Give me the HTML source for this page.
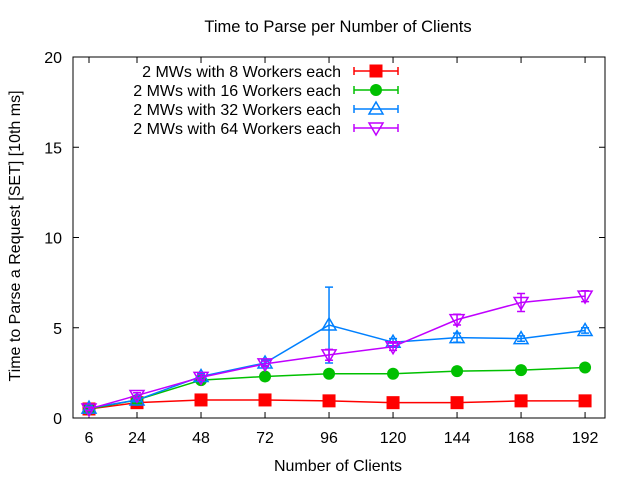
<!DOCTYPE html>
<html><head><meta charset="utf-8"><style>
body{margin:0;background:#fff}
svg{display:block;font-family:"Liberation Sans",sans-serif;font-size:16px}
</style></head><body>
<svg width="640" height="480" id="c">
<rect width="640" height="480" fill="#fff"/>
<text x="338" y="32" text-anchor="middle" style="font-size:16.5px">Time to Parse per Number of Clients</text>
<text x="338" y="471" text-anchor="middle">Number of Clients</text>
<text transform="translate(20,236) rotate(-90)" text-anchor="middle">Time to Parse a Request [SET] [10th ms]</text>
<g id="axes"></g>
<g id="series"></g>
<g id="legend"></g>
<rect x="73" y="57" width="532" height="361" fill="none" stroke="#000"/>
</svg>
<script>
const categories=[6,24,48,72,96,120,144,168,192];
const yTicks=[0,5,10,15,20];
const seriesNames=["2 MWs with 8 Workers each","2 MWs with 16 Workers each","2 MWs with 32 Workers each","2 MWs with 64 Workers each"];
const s8=[0.5,0.85,1.0,1.0,0.95,0.85,0.85,0.95,0.95];
const s16=[0.5,1.0,2.1,2.3,2.45,2.45,2.6,2.65,2.8];
const s32=[0.55,1.0,2.3,3.05,5.15,4.2,4.45,4.4,4.85];
const s64=[0.5,1.25,2.25,3.0,3.5,3.95,5.45,6.4,6.75];
const err8=[0.05,0.05,0.05,0.05,0.05,0.05,0.05,0.05,0.05];
const err16=[0.05,0.05,0.1,0.05,0.05,0.05,0.05,0.05,0.05];
const err32=[0.1,0.1,0.15,0.15,2.1,0.2,0.25,0.15,0.15];
const err64=[0.1,0.15,0.15,0.15,0.3,0.2,0.3,0.5,0.3];
const colors=["#ff0000","#00c000","#0080ff","#c000ff"];
const NS="http://www.w3.org/2000/svg";
function x(v){return 73+v*2.667;}
function y(v){return 418-v*18.05;}
function el(t,a,p){const e=document.createElementNS(NS,t);for(const k in a)e.setAttribute(k,a[k]);p.appendChild(e);return e;}
const ax=document.getElementById('axes');
categories.forEach(c=>{
  const t=el('line',{x1:x(c),x2:x(c),y1:418,y2:412,stroke:'#000'},ax);
  
  
  const t2=el('line',{x1:x(c),x2:x(c),y1:57,y2:63,stroke:'#000'},ax);
  
  
  const l=el('text',{x:x(c),y:443,'text-anchor':'middle'},ax);l.textContent=c;
  
  
});
yTicks.forEach(v=>{
  const t=el('line',{x1:73,x2:79,y1:y(v),y2:y(v),stroke:'#000'},ax);
  
  
  const t2=el('line',{x1:605,x2:599,y1:y(v),y2:y(v),stroke:'#000'},ax);
  
  
  const l=el('text',{x:62,y:y(v)+6,'text-anchor':'end'},ax);l.textContent=v;
  
  
});
function marker(i,cx,cy,g){
  const c=colors[i];let m;
  if(i==0)m=el('rect',{x:cx-6.5,y:cy-6.5,width:13,height:13,fill:c},g);
  else if(i==1)m=el('circle',{cx:cx,cy:cy,r:6,fill:c},g);
  else if(i==2)m=el('polygon',{points:`${cx},${cy-7} ${cx-7},${cy+5} ${cx+7},${cy+5}`,fill:'none',stroke:c,'stroke-width':1.5},g);
  else m=el('polygon',{points:`${cx},${cy+7} ${cx-7},${cy-5} ${cx+7},${cy-5}`,fill:'none',stroke:c,'stroke-width':1.5},g);
  return m;
}
const sg=document.getElementById('series');
[[s8,err8],[s16,err16],[s32,err32],[s64,err64]].forEach(([vals,errs],i)=>{
  const g=el('g',{},sg);
  
  
  const ln=el('polyline',{points:vals.map((v,j)=>x(categories[j])+','+y(v)).join(' '),fill:'none',stroke:colors[i],'stroke-width':1.5},g);
  
  
  vals.forEach((v,j)=>{
    const cx=x(categories[j]),lo=y(v-errs[j]),hi=y(v+errs[j]);
    const eb=el('path',{d:`M${cx},${lo}V${hi}M${cx-4},${lo}h8M${cx-4},${hi}h8`,stroke:colors[i],'stroke-width':1.5,fill:'none'},g);
    
    
    const m=marker(i,cx,y(v),g);
    
    
  });
});
const lg=document.getElementById('legend');
seriesNames.forEach((n,i)=>{
  const yy=71+i*19;
  const g=el('g',{},lg);
  
  
  const t=el('text',{x:341,y:yy+6,'text-anchor':'end'},g);t.textContent=n;
  el('path',{d:`M354,${yy}H398M354,${yy-4}v8M398,${yy-4}v8`,stroke:colors[i],'stroke-width':1.5},g);
  marker(i,376,yy,g);
});
</script>
</body></html>
